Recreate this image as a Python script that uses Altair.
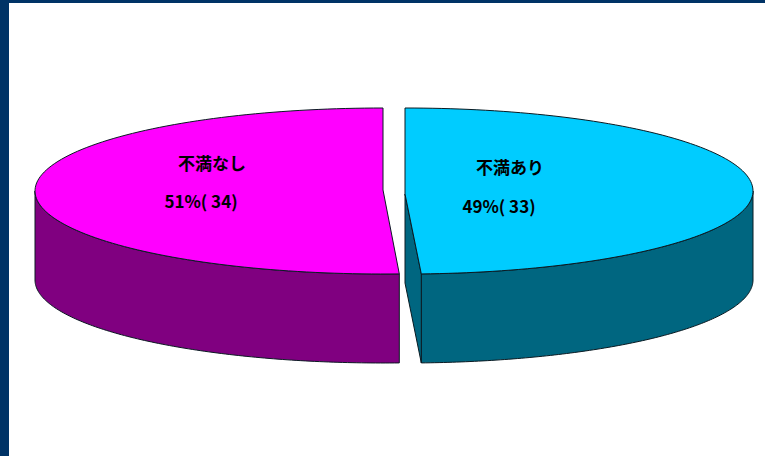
import numpy as np
import pandas as pd
import altair as alt

# Survey counts and the texts printed on each slice
categories = ["不満あり", "不満なし"]
counts = [33, 34]
percents = ["49%( 33)", "51%( 34)"]

# Pie geometry, in plot units
W, H = 765, 456
RX, RY = 348, 83
DEPTH = 89
CY = 191
CENTRES = {"不満あり": 405, "不満なし": 383}
TOP_COLORS = {"不満あり": "#00ccff", "不満なし": "#ff00ff"}
SIDE_COLORS = {"不満あり": "#006680", "不満なし": "#800080"}


def rim(cx, start, stop, dy=0, n=120):
    """Points along the rim, angles clockwise from twelve o'clock."""
    t = np.radians(np.linspace(start, stop, n))
    return list(zip(cx + RX * np.sin(t), CY + dy - RY * np.cos(t)))


split = 360 * counts[0] / sum(counts)
hub_r = (CENTRES["不満あり"], CY + 3)
hub_l = (CENTRES["不満なし"], CY - 1)
cx_r, cx_l = CENTRES["不満あり"], CENTRES["不満なし"]

shapes = [
    # front wall of the right slice
    ("r_side", SIDE_COLORS["不満あり"],
     rim(cx_r, split, 90) + rim(cx_r, 90, split, DEPTH)),
    # cut face of the right slice
    ("r_cut", SIDE_COLORS["不満あり"],
     [hub_r, rim(cx_r, split, split)[0], rim(cx_r, split, split, DEPTH)[0],
      (hub_r[0], hub_r[1] + DEPTH)]),
    # front wall of the left slice
    ("l_side", SIDE_COLORS["不満なし"],
     rim(cx_l, split, 270) + rim(cx_l, 270, split, DEPTH)),
    # top faces
    ("r_top", TOP_COLORS["不満あり"], [hub_r] + rim(cx_r, 0, split)),
    ("l_top", TOP_COLORS["不満なし"], [hub_l] + rim(cx_l, split, 360)),
]

x_scale = alt.Scale(domain=[0, W], range=[0, W], nice=False, zero=False)
y_scale = alt.Scale(domain=[0, H], range=[0, H], nice=False, zero=False)

layers = []
for name, color, pts in shapes:
    pts = list(pts) + [pts[0]]
    df = pd.DataFrame(pts, columns=["x", "y"])
    df["i"] = range(len(df))
    layers.append(
        alt.Chart(df).mark_line(fill=color, stroke="#0a1a22", strokeWidth=1, interpolate="linear")
        .encode(
            x=alt.X("x:Q", scale=x_scale, axis=None),
            y=alt.Y("y:Q", scale=y_scale, axis=None),
            order="i:Q",
        )
    )

# Navy frame along the left and top edges
one = pd.DataFrame({"a": [0]})
frame_left = alt.Chart(one).mark_rect(color="#003366").encode(
    x=alt.value(0), x2=alt.value(9), y=alt.value(0), y2=alt.value(H))
frame_top = alt.Chart(one).mark_rect(color="#003366").encode(
    x=alt.value(0), x2=alt.value(W), y=alt.value(0), y2=alt.value(3))

# Slice labels: category name above, share and count below
labels = pd.DataFrame({
    "text": categories + percents,
    "x": [510, 212, 499, 201],
    "y": [169, 165, 208, 203],
})
text = alt.Chart(labels).mark_text(
    font="Noto Sans CJK JP", fontSize=17, fontWeight="bold", color="#000000", align="center", baseline="middle"
).encode(
    x=alt.X("x:Q", scale=x_scale, axis=None),
    y=alt.Y("y:Q", scale=y_scale, axis=None),
    text="text:N",
)

chart = alt.layer(frame_left, frame_top, *layers, text).properties(
    width=W, height=H, padding=0, background="#ffffff",
    autosize=alt.AutoSizeParams(type="none"),
).configure_view(stroke=None)

chart.save("out.html", embed_options={"renderer": "svg", "actions": False})
